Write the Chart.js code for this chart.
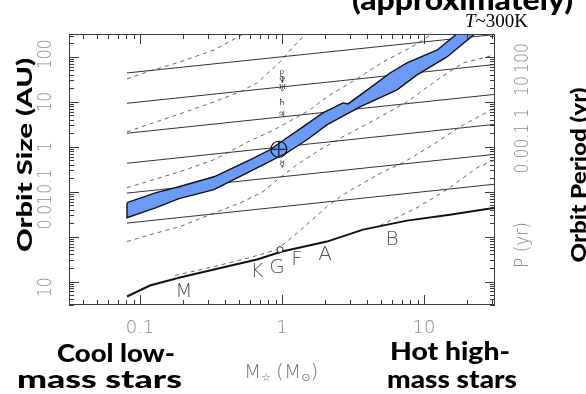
<!DOCTYPE html>
<html lang="en">
<head>
<meta charset="UTF-8">
<title>Orbit size vs stellar mass</title>
<script src="https://cdn.jsdelivr.net/npm/chart.js"></script>
<style>
  html, body { margin: 0; padding: 0; background: #fff; }
  #wrap { width: 586px; height: 394px; position: relative; }
</style>
</head>
<body>
<div id="wrap"><canvas id="chart"></canvas></div>
<script>
// ---- data (mass in Msun, orbit size in AU) ----
const starMass   = [0.081, 0.1175, 0.191, 0.332, 0.667, 1.0, 2.07, 3.72, 7.59, 15.2, 31.6];
const starRadius = [4.64e-4, 8.15e-4, 1.23e-3, 1.85e-3, 3.08e-3, 4.64e-3, 7.74e-3, 0.0143, 0.0227, 0.0308, 0.0441];

// constant-period lines (P in yr), start / end orbit size
const periods       = [1000, 100, 10, 1, 0.1, 0.01];
const periodMass    = [0.081, 31.6];
const periodStartA  = [44, 9.3, 2.0, 0.43, 0.093, 0.020];
const periodEndA    = [316, 68, 14.7, 3.16, 0.68, 0.147];

// habitable zone band, outer and inner edges
const hzOuterM = [0.081, 0.130, 0.188, 0.332, 0.595, 0.823, 1.084, 1.34, 1.94, 2.69, 2.92, 4.17, 5.76, 7.59, 12.4, 19.1];
const hzOuterA = [0.057, 0.095, 0.129, 0.215, 0.514, 0.858, 1.585, 2.51, 5.7, 9.5, 9.0, 20.5, 44, 73.6, 143, 441];
const hzInnerM = [0.081, 0.130, 0.188, 0.332, 0.667, 1.084, 1.50, 2.07, 3.54, 6.46, 8.93, 14.5, 25.6];
const hzInnerA = [0.0264, 0.044, 0.070, 0.111, 0.341, 0.736, 1.43, 3.08, 7.74, 18.5, 39.8, 100, 441];

// dashed curves
const dash1M = [0.081, 0.118, 0.191, 0.332, 0.506, 0.700];
const dash1A = [32.5, 48.9, 77.4, 143, 293, 600];
const dash2M = [0.081, 0.118, 0.191, 0.332, 0.506, 0.667, 0.797, 0.968, 1.195, 1.34, 1.575];
const dash2A = [2.15, 3.24, 5.41, 10, 16.7, 26.4, 44.1, 77.4, 167, 239, 441];
const dash3M = [0.081, 0.118, 0.191, 0.332, 0.595, 0.823, 1.084, 1.575, 2.07, 3.27, 5.15, 8.93, 12.4];
const dash3A = [0.1227, 0.1756, 0.278, 0.514, 1.36, 2.15, 3.42, 6.64, 12.9, 30.8, 77.4, 194, 398];
const dash4M = [0.081, 0.118, 0.191, 0.311, 0.531, 0.735, 0.968, 1.275, 1.85, 2.69, 4.52, 7.59, 12.4, 18.8, 31.6];
const dash4A = [0.00774, 0.01107, 0.0167, 0.0308, 0.0599, 0.1, 0.205, 0.398, 0.858, 1.67, 3.98, 10, 30.8, 73.6, 111];
const dash5M = [0.1764, 0.332, 0.595, 0.922, 1.195, 1.575, 2.07, 2.69, 3.27, 5.15, 7.11, 11.57, 17.9, 31.6];
const dash5A = [0.00136, 0.00215, 0.00341, 0.00514, 0.01, 0.0215, 0.0464, 0.0858, 0.1227, 0.278, 0.441, 1.108, 2.78, 7.36];
const dash6M = [4.90, 8.93, 14.5, 23.6, 31.6];
const dash6A = [0.01755, 0.0441, 0.1107, 0.341, 0.514];

// solar system
const earthM = [0.95], earthA = [0.88];
const sunM = [0.968], sunA = [5.14e-3];
const planetSym = ['\u263F', '\u2643', '\u2644', '\u2645', '\u2646', '\u2647'];
const planetA   = [0.39, 5.2, 9.5, 19.2, 30.1, 39.5];

// spectral types along the main sequence
const specType = ['M', 'K', 'G', 'F', 'A', 'B'];
const specM    = [0.204, 0.667, 0.922, 1.275, 2.01, 5.95];
const specA    = [6.0e-4, 1.67e-3, 2.05e-3, 3.08e-3, 3.98e-3, 8.58e-3];

// tick labels
const xTickVals   = [0.1, 1, 10];
const xTickLabels = ['0.1', '1', '10'];
const yLeftLabels = ['100', '10', '1', '0.1', '0.01', '10'];
const yLeftAt     = [115, 10, 1, 0.17, 0.035, 0.00075];
const yRightLabels = ['100', '10', '1', '0.1', '0.0'];
const yRightPix    = [58, 86, 113, 136, 161];

const pts = (xs, ys) => xs.map((v, i) => ({ x: v, y: ys[i] }));

function lineSet(data, opts) {
  return Object.assign({
    data, showLine: true, pointRadius: 0, borderWidth: 1, borderColor: '#333',
    tension: 0, fill: false, clip: 0, order: 5
  }, opts);
}

const bandPts = pts(hzOuterM, hzOuterA).concat(pts(hzInnerM, hzInnerA).reverse());
bandPts.push(bandPts[0]);

const datasets = [];
datasets.push({ data: pts(earthM, earthA), pointStyle: 'circle', pointRadius: 8, borderWidth: 1.2,
  borderColor: '#111', backgroundColor: 'rgba(0,0,0,0)', order: 0 });
datasets.push({ data: pts(earthM, earthA), pointStyle: 'cross', pointRadius: 8, borderWidth: 1.2,
  borderColor: '#111', order: 0 });
datasets.push({ data: pts(sunM, sunA), pointStyle: 'circle', pointRadius: 3, borderWidth: 1,
  borderColor: '#222', backgroundColor: '#fff', order: 0 });
datasets.push(lineSet(bandPts, { borderColor: '#111', borderWidth: 1.4, backgroundColor: '#6b9bf7', fill: 'shape', order: 1 }));
datasets.push(lineSet(pts(starMass, starRadius), { borderColor: '#111', borderWidth: 2, order: 2 }));
periods.forEach((p, i) => {
  datasets.push(lineSet(pts(periodMass, [periodStartA[i], periodEndA[i]]), { borderColor: '#333', order: 3 }));
});
[[dash1M, dash1A], [dash2M, dash2A], [dash3M, dash3A], [dash4M, dash4A], [dash5M, dash5A], [dash6M, dash6A]]
  .forEach(([m, a]) => datasets.push(lineSet(pts(m, a), { borderColor: '#666', borderDash: [4, 4], order: 4 })));

function logTicks(min, max) {
  const out = [];
  for (let e = -5; e <= 3; e++) {
    for (let k = 1; k < 10; k++) {
      const v = k * Math.pow(10, e);
      if (v >= min * 0.999 && v <= max * 1.001) out.push({ v, major: k === 1 });
    }
  }
  return out;
}

const decor = {
  id: 'decor',
  afterDraw(chart) {
    const { ctx, chartArea: ca, scales: { x, y } } = chart;
    ctx.save();

    // planets at 1 Msun
    ctx.fillStyle = '#333';
    ctx.font = '9px "DejaVu Sans"';
    ctx.textAlign = 'center';
    ctx.textBaseline = 'middle';
    planetSym.forEach((s, i) => ctx.fillText(s, x.getPixelForValue(1), y.getPixelForValue(planetA[i])));

    // frame + ticks
    ctx.strokeStyle = '#3a3a3a';
    ctx.lineWidth = 1;
    ctx.strokeRect(ca.left + 0.5, ca.top + 0.5, ca.right - ca.left - 1, ca.bottom - ca.top - 1);
    ctx.beginPath();
    logTicks(x.min, x.max).forEach(t => {
      const px = Math.round(x.getPixelForValue(t.v)) + 0.5;
      const len = t.major ? 10 : 5;
      ctx.moveTo(px, ca.bottom); ctx.lineTo(px, ca.bottom - len);
      ctx.moveTo(px, ca.top); ctx.lineTo(px, ca.top + len);
    });
    logTicks(y.min, y.max).forEach(t => {
      const py = Math.round(y.getPixelForValue(t.v)) + 0.5;
      const len = t.major ? 10 : 5;
      ctx.moveTo(ca.left, py); ctx.lineTo(ca.left + len, py);
      ctx.moveTo(ca.right, py); ctx.lineTo(ca.right - len, py);
    });
    ctx.stroke();

    const thin = '200 18px "DejaVu Sans"';
    const thinV = '200 20px "DejaVu Sans"';
    // x tick labels
    ctx.fillStyle = '#888';
    ctx.font = thin;
    ctx.textBaseline = 'alphabetic';
    xTickVals.forEach((v, i) => ctx.fillText(xTickLabels[i], x.getPixelForValue(v), 333));

    // rotated labels
    function vtext(str, cx, cy, font, color, sx) {
      ctx.save();
      ctx.translate(cx, cy);
      ctx.rotate(-Math.PI / 2);
      ctx.scale(sx || 1, 1);
      ctx.font = font;
      ctx.fillStyle = color;
      ctx.textAlign = 'center';
      ctx.textBaseline = 'middle';
      ctx.fillText(str, 0, 0);
      ctx.restore();
    }
    function vfit(str, cx, cy, font, color, len) {
      ctx.font = font;
      vtext(str, cx, cy, font, color, len / ctx.measureText(str).width);
    }
    yLeftLabels.forEach((s, i) => vtext(s, 46, y.getPixelForValue(yLeftAt[i]), thinV, '#8a8a8a', 0.78));
    yRightLabels.forEach((s, i) => vtext(s, 523, yRightPix[i], thinV, '#8a8a8a', 0.78));
    vtext('P (yr)', 523, 245, thinV, '#8a8a8a', 0.85);

    const heavy = '900 21px Lato, "Open Sans", sans-serif';
    vfit('Orbit Size (AU)', 25, 155, heavy, '#000', 194);
    vfit('Orbit Period (yr)', 579, 175, heavy, '#000', 175);

    // spectral types
    ctx.fillStyle = '#555';
    ctx.font = '200 20px "DejaVu Sans"';
    ctx.textAlign = 'center';
    ctx.textBaseline = 'middle';
    specType.forEach((s, i) => ctx.fillText(s, x.getPixelForValue(specM[i]), y.getPixelForValue(specA[i])));

    // x axis title  M* (Msun)
    ctx.fillStyle = '#777';
    ctx.textAlign = 'left';
    ctx.textBaseline = 'alphabetic';
    const big = '200 20px "DejaVu Sans"', small = '11px "DejaVu Sans"';
    let cx = 244;
    const by = 378;
    ctx.font = big; ctx.fillText('M', cx, by); cx += ctx.measureText('M').width;
    ctx.font = small; ctx.fillText('\u2606', cx, by + 3); cx += ctx.measureText('\u2606').width + 5;
    ctx.font = big; ctx.fillText('(M', cx, by); cx += ctx.measureText('(M').width;
    ctx.font = small; ctx.fillText('\u2299', cx, by + 3); cx += ctx.measureText('\u2299').width;
    ctx.font = big; ctx.fillText(')', cx, by);

    // bold captions, fitted to the widths seen
    function hfit(str, left, base, len, font) {
      ctx.save();
      ctx.font = font;
      const w = ctx.measureText(str).width;
      ctx.translate(left, base);
      ctx.scale(len / w, 1);
      ctx.fillStyle = '#000';
      ctx.textAlign = 'left';
      ctx.fillText(str, 0, 0);
      ctx.restore();
    }
    const cap = '900 24px Lato, "Open Sans", sans-serif';
    hfit('Cool low-', 57, 362, 118, cap);
    hfit('mass stars', 17, 388, 165, cap);
    hfit('Hot high-', 390, 360, 120, cap);
    hfit('mass stars', 387, 388, 130, cap);
    hfit('(approximately)', 352, 10, 221, '900 28px Lato, "Open Sans", sans-serif');

    // T~300K
    ctx.fillStyle = '#000';
    ctx.textAlign = 'left';
    ctx.font = '19px "Liberation Serif"';
    const rest = '~300K';
    const wr = ctx.measureText(rest).width;
    ctx.font = 'italic 19px "Liberation Serif"';
    const wt = ctx.measureText('T').width;
    ctx.fillText('T', 528 - wr - wt, 27);
    ctx.font = '19px "Liberation Serif"';
    ctx.fillText(rest, 528 - wr, 27);

    ctx.restore();
  }
};

new Chart(document.getElementById('chart'), {
  type: 'scatter',
  data: { datasets },
  options: {
    responsive: true,
    maintainAspectRatio: false,
    animation: false,
    layout: { padding: { left: 69, top: 34, right: 91, bottom: 89 } },
    plugins: { legend: { display: false }, tooltip: { enabled: false } },
    scales: {
      x: { type: 'logarithmic', min: Math.pow(10, -1.5), max: Math.pow(10, 1.5), display: false },
      y: { type: 'logarithmic', min: Math.pow(10, -3.511), max: Math.pow(10, 2.511), display: false }
    }
  },
  plugins: [decor]
});
</script>
</body>
</html>
